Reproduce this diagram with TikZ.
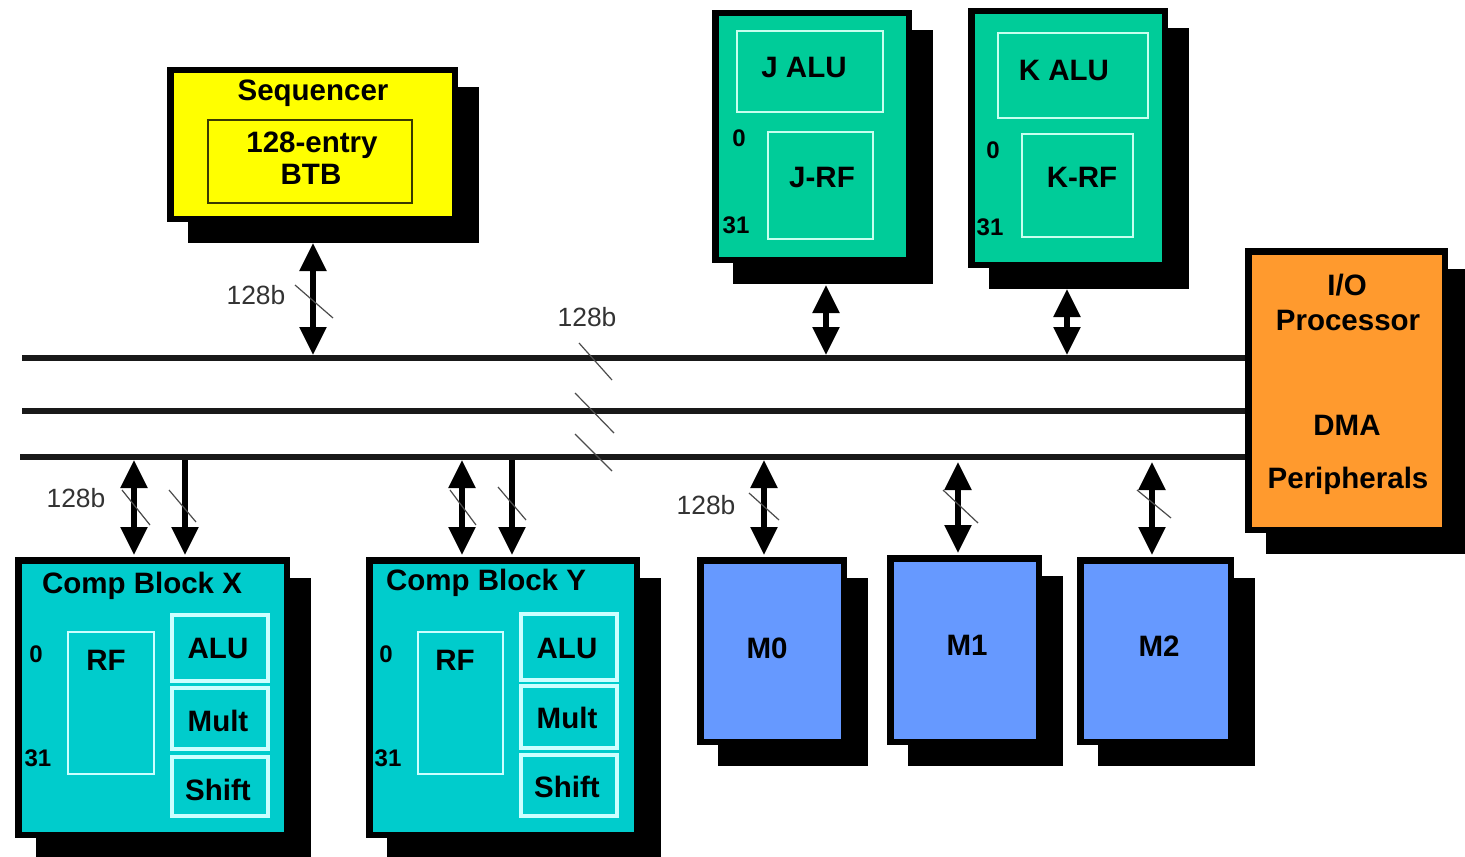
\documentclass[tikz,border=0pt]{standalone}
\usepackage{fontspec}
\setmainfont{Liberation Sans}
\usetikzlibrary{arrows.meta,backgrounds}
\definecolor{seqyel}{HTML}{FFFF00}
\definecolor{jkgreen}{HTML}{00CC99}
\definecolor{compcyan}{HTML}{00CCCC}
\definecolor{memblue}{HTML}{6699FF}
\definecolor{ioorange}{HTML}{FF9A2E}
\definecolor{btbline}{HTML}{3A3A00}
\definecolor{lightgreen}{HTML}{C8FFEE}
\definecolor{lightcyan}{HTML}{CCFFFF}
\begin{document}
\begin{tikzpicture}[x=0.5pt,y=-0.5pt,
  blk/.style={draw=black, line width=3.25pt, inner sep=0pt},
  ibox/.style={draw=#1, line width=1.25pt, inner sep=0pt},
  bold/.style={font=\fontsize{14.75}{16}\selectfont\bfseries, inner sep=0pt, text height=10.6pt, text depth=0pt},
  idx/.style={font=\fontsize{12}{13}\selectfont\bfseries, inner sep=0pt, text height=8.6pt, text depth=0pt},
  wlabel/.style={font=\fontsize{13.2}{14}\selectfont, text=black!80, inner sep=0pt, text height=9.5pt, text depth=0pt},
  bus/.style={draw=black!90, line width=2.6pt},
  darr/.style={line width=2.7pt, {Triangle[width=13pt,length=14pt]}-{Triangle[width=13pt,length=14pt]}},
  sarr/.style={line width=2.7pt, -{Triangle[width=13pt,length=14pt]}},
  tick/.style={draw=black!70, line width=0.6pt}]
\useasboundingbox (0,0) rectangle (1465,856);

% ---------- blocks ----------
\node[blk, fill=seqyel, minimum width=142.25pt, minimum height=74.25pt] (seq) at (312.5,144.5) {};
\node[blk, fill=jkgreen, minimum width=96.75pt, minimum height=123.25pt] (jb) at (812,136.5) {};
\node[blk, fill=jkgreen, minimum width=96.75pt, minimum height=126.75pt] (kb) at (1068,138) {};
\node[blk, fill=ioorange, minimum width=98.25pt, minimum height=139.25pt] (io) at (1346.5,390.5) {};
\node[blk, fill=compcyan, minimum width=134.25pt, minimum height=137.25pt] (cx) at (152.5,697.5) {};
\node[blk, fill=compcyan, minimum width=133.75pt, minimum height=137.25pt] (cy) at (503,697.5) {};
\node[blk, fill=memblue, minimum width=71.75pt, minimum height=90.75pt] (m0) at (772,651) {};
\node[blk, fill=memblue, minimum width=74.25pt, minimum height=91.75pt] (m1) at (964.5,650) {};
\node[blk, fill=memblue, minimum width=75.25pt, minimum height=90.75pt] (m2) at (1155.5,651) {};

% ---------- inner boxes ----------
\node[draw=btbline, line width=0.8pt, minimum width=102pt, minimum height=41.5pt] (btb) at (310,161.5) {};
\node[ibox=lightgreen, minimum width=73pt, minimum height=40.5pt] (jalu) at (810,71.5) {};
\node[ibox=lightgreen, minimum width=52.5pt, minimum height=53.5pt] (jrf) at (820.5,185.5) {};
\node[ibox=lightgreen, minimum width=75pt, minimum height=42.5pt] (kalu) at (1073,75.5) {};
\node[ibox=lightgreen, minimum width=55.5pt, minimum height=51.5pt] (krf) at (1077.5,185.5) {};
\node[ibox=lightcyan, minimum width=43pt, minimum height=71pt] (xrf) at (111,703) {};
\node[ibox=lightcyan, line width=1.6pt, minimum width=48pt, minimum height=33pt] (xalu) at (220,648) {};
\node[ibox=lightcyan, line width=1.6pt, minimum width=48pt, minimum height=30.5pt] (xmul) at (220,718.5) {};
\node[ibox=lightcyan, line width=1.6pt, minimum width=48pt, minimum height=29.5pt] (xsh) at (220,786.5) {};
\node[ibox=lightcyan, minimum width=42.5pt, minimum height=71pt] (yrf) at (460.5,703) {};
\node[ibox=lightcyan, line width=1.6pt, minimum width=48pt, minimum height=33pt] (yalu) at (569,647) {};
\node[ibox=lightcyan, line width=1.6pt, minimum width=48pt, minimum height=31pt] (ymul) at (569,717) {};
\node[ibox=lightcyan, line width=1.6pt, minimum width=48pt, minimum height=30.5pt] (ysh) at (569,785.5) {};

% ---------- texts ----------
\node[bold] (tseq) at (313,90) {Sequencer};
\node[bold] (tbtb1) at (312,142) {128-entry};
\node[bold] (tbtb2) at (311,174) {BTB};
\node[bold] (tjalu) at (804,67) {J ALU};
\node[bold] (tjrf) at (822,177) {J-RF};
\node[idx] (tj0) at (739,138) {0};
\node[idx] (tj31) at (736,225) {31};
\node[bold] (tkalu) at (1064,70) {K ALU};
\node[bold] (tkrf) at (1082,177) {K-RF};
\node[idx] (tk0) at (993,150) {0};
\node[idx] (tk31) at (990,227) {31};
\node[bold] (tio1) at (1347,285) {I/O};
\node[bold] (tio2) at (1348,320) {Processor};
\node[bold] (tio3) at (1347,425) {DMA};
\node[bold] (tio4) at (1348,478) {Peripherals};
\node[bold] (tcx) at (142,583) {Comp Block X};
\node[idx] (tx0) at (36,654) {0};
\node[idx] (tx31) at (38,758) {31};
\node[bold] (txrf) at (106,660) {RF};
\node[bold] (txalu) at (218,648) {ALU};
\node[bold] (txmul) at (218,721) {Mult};
\node[bold] (txsh) at (218,790) {Shift};
\node[bold] (tcy) at (486,580) {Comp Block Y};
\node[idx] (ty0) at (386,654) {0};
\node[idx] (ty31) at (388,758) {31};
\node[bold] (tyrf) at (455,660) {RF};
\node[bold] (tyalu) at (567,648) {ALU};
\node[bold] (tymul) at (567,718) {Mult};
\node[bold] (tysh) at (567,787) {Shift};
\node[bold] (tm0) at (767,648) {M0};
\node[bold] (tm1) at (967,645) {M1};
\node[bold] (tm2) at (1159,646) {M2};

\node[wlabel] (w1) at (256,295) {128b};
\node[wlabel] (w2) at (587,317) {128b};
\node[wlabel] (w3) at (76,498) {128b};
\node[wlabel] (w4) at (706,505) {128b};

% ---------- buses ----------
\coordinate (bus1) at (22,358);
\coordinate (bus2) at (22,411);
\coordinate (bus3) at (20,457);
\draw[bus] (bus1) -- (bus1 -| io.west);
\draw[bus] (bus2) -- (bus2 -| io.west);
\draw[bus] (bus3) -- (bus3 -| io.west);

% ---------- connectors ----------
\coordinate (sq1) at (313,243); \coordinate (sq2) at (313,355);
\coordinate (j1) at (826,285); \coordinate (j2) at (826,355);
\coordinate (k1) at (1067,289); \coordinate (k2) at (1067,355);
\coordinate (xa1) at (134,460); \coordinate (xa2) at (134,555);
\coordinate (xb1) at (185,460); \coordinate (xb2) at (185,555);
\coordinate (ya1) at (462,460); \coordinate (ya2) at (462,555);
\coordinate (yb1) at (512,460); \coordinate (yb2) at (512,555);
\coordinate (ma1) at (764,460); \coordinate (ma2) at (764,555);
\coordinate (mb1) at (958,462); \coordinate (mb2) at (958,553);
\coordinate (mc1) at (1152,462); \coordinate (mc2) at (1152,555);
\draw[darr] (sq1) -- (sq2);
\draw[darr] (j1) -- (j2);
\draw[darr] (k1) -- (k2);
\draw[darr] (xa1) -- (xa2);
\draw[sarr] (xb1) -- (xb2);
\draw[darr] (ya1) -- (ya2);
\draw[sarr] (yb1) -- (yb2);
\draw[darr] (ma1) -- (ma2);
\draw[darr] (mb1) -- (mb2);
\draw[darr] (mc1) -- (mc2);

% ---------- width ticks ----------
\draw[tick] (295,285) -- (333,318);
\draw[tick] (579,343) -- (612,380);
\draw[tick] (575,393) -- (614,433);
\draw[tick] (575,434) -- (612,471);
\draw[tick] (122,490) -- (150,525);
\draw[tick] (169,490) -- (196,522);
\draw[tick] (450,490) -- (476,525);
\draw[tick] (498,487) -- (526,520);
\draw[tick] (749,493) -- (779,520);
\draw[tick] (943,490) -- (978,523);
\draw[tick] (1137,490) -- (1171,518);

% ---------- shadows ----------
\begin{scope}[on background layer]
\fill[white] (0,0) rectangle (1465,856);
\foreach \n in {seq,jb,kb,io,cx,cy,m0,m1,m2}{
  \fill[black] ([shift={(20.5,20.5)}]\n.north west) rectangle ([shift={(20.5,20.5)}]\n.south east);
}
\end{scope}
\end{tikzpicture}
\end{document}
